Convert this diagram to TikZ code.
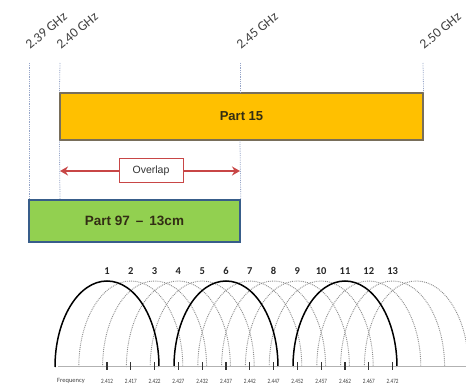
\documentclass[tikz,border=0pt]{standalone}
\usepackage{fontspec}
\setmainfont{Liberation Sans}
\newfontfamily\carl{Carlito}
\usetikzlibrary{arrows.meta}
\definecolor{guidec}{RGB}{150,165,200}
\definecolor{yel}{RGB}{255,192,0}
\definecolor{yelb}{RGB}{120,110,90}
\definecolor{grn}{RGB}{146,208,80}
\definecolor{grnb}{RGB}{56,93,138}
\definecolor{redc}{RGB}{200,70,70}
\definecolor{txt}{RGB}{50,45,20}
\begin{document}
\begin{tikzpicture}[x=1pt,y=1pt,
  guide/.style={draw=guidec, densely dotted, line width=0.8pt},
  ghz/.style={font=\carl\fontsize{13.5}{13.5}\selectfont, text=black!75, anchor=base west, inner sep=0pt, rotate=40},
  part15/.style={draw=yelb, fill=yel, line width=1.2pt, minimum width=363pt, minimum height=47pt, inner sep=0pt,
    font=\bfseries\fontsize{13}{13}\selectfont, text=txt},
  part97/.style={draw=grnb, fill=grn, line width=1.5pt, minimum width=211pt, minimum height=42pt, inner sep=0pt,
    font=\bfseries\fontsize{13.5}{13.5}\selectfont, text=txt},
  ovbox/.style={draw=redc, fill=white, line width=1pt, minimum width=64pt, minimum height=24pt, inner sep=0pt,
    font=\fontsize{10.5}{10.5}\selectfont, text=black!80},
  redarrow/.style={draw=redc, line width=2pt, -{Stealth[length=8pt,width=9pt]}},
  chsolid/.style={draw=black, line width=1.5pt},
  chdash/.style={draw=black!45, densely dotted, line width=0.9pt},
  chnum/.style={font=\carl\bfseries\fontsize{10.5}{10.5}\selectfont, text=black!85, inner sep=0pt},
  freq/.style={font=\carl\fontsize{6.5}{6.5}\selectfont, text=black!75, inner sep=0pt},
  tickmark/.style={draw=black!80, line width=1.2pt},
  basel/.style={draw=black!30, line width=1pt}
]
\useasboundingbox (0,0) rectangle (466,388);
\fill[white] (0,0) rectangle (466,388);

% frequency guides
\coordinate (g39) at (29,325);
\coordinate (g40) at (60,325);
\coordinate (g45) at (240,325);
\coordinate (g50) at (423,325);
\node[ghz] (l39) at (30,338) {2.39 GHz};
\node[ghz] (l40) at (61,338) {2.40 GHz};
\node[ghz] (l45) at (241,338) {2.45 GHz};
\node[ghz] (l50) at (424,338) {2.50 GHz};

% boxes
\node[part15] (p15) at (241.5,271.5) {Part 15};
\node[part97] (p97) at (134.5,167) {Part 97 \,--\, 13cm};

\draw[guide] (g39) -- (g39 |- p97.north);
\draw[guide] (g40) -- (p15.north west);
\draw[guide] (p15.south west) -- (g40 |- p97.north);
\draw[guide] (g45) -- (g45 |- p15.north);
\draw[guide] (g45 |- p15.south) -- (p97.north east);
\draw[guide] (g50) -- (p15.north east);

% overlap
\coordinate (al) at (60,217);
\coordinate (ar) at (240,217);
\node[ovbox] (ov) at (151,217) {Overlap};
\draw[redarrow] (ov.west) -- (al);
\draw[redarrow] (ov.east) -- (ar);

% channels
\begin{scope}
\clip (0,0) rectangle (466,388);
\foreach \n in {2,3,4,5,7,8,9,10,12,13,14}{
  \pgfmathsetmacro\c{107+(\n-1)*23.8}
  \draw[chdash] (\c-52,21) arc[start angle=180,end angle=0,x radius=52pt,y radius=86pt];
}
\foreach \n in {1,6,11}{
  \pgfmathsetmacro\c{107+(\n-1)*23.8}
  \draw[chsolid] (\c-52,21) arc[start angle=180,end angle=0,x radius=52pt,y radius=86pt];
}
\end{scope}
\draw[basel] (58,21) -- (466,21);
\node[freq, anchor=west] (fq) at (57,7) {Frequency};
\foreach \n in {1,...,13}{
  \pgfmathsetmacro\c{107+(\n-1)*23.8}
  \pgfmathtruncatemacro\f{412+5*(\n-1)}
  \draw[tickmark] (\c,18) -- (\c,26);
  \node[chnum] (n\n) at (\c,117) {\n};
  \node[freq] (f\n) at (\c,7) {\scalebox{0.8}[1]{2.\f}};
}
\end{tikzpicture}
\end{document}
